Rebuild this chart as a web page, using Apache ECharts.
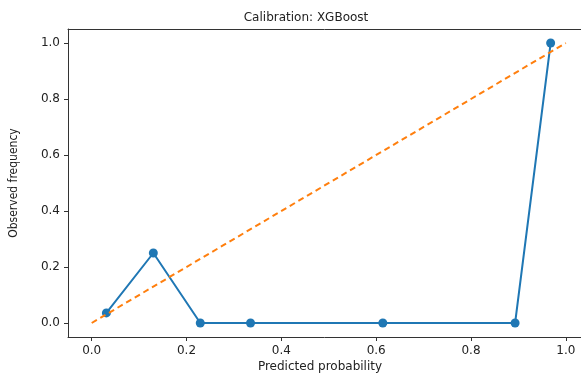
<!DOCTYPE html>
<html>
<head>
<meta charset="utf-8">
<script src="https://cdn.jsdelivr.net/npm/echarts@6/dist/echarts.min.js"></script>
<style>
  html, body { margin: 0; padding: 0; background: #fff; }
  #chart { width: 581px; height: 373px; }
</style>
</head>
<body>
<div id="chart"></div>
<script>
// 预测概率 / 观测频率
const predicted = [0.031, 0.13, 0.229, 0.335, 0.614, 0.893, 0.968];
const observed = [0.036, 0.25, 0, 0, 0, 0, 1.0];
// 完美校准参考线
const perfectX = [0, 1];
const perfectY = [0, 1];
const tickValues = [0, 0.2, 0.4, 0.6, 0.8, 1.0];

const font = 'DejaVu Sans';
const myChart = echarts.init(document.getElementById('chart'));

const axisCommon = {
  type: 'value',
  min: -0.05,
  max: 1.05,
  splitLine: { show: false },
  axisLine: { show: true, onZero: false, lineStyle: { color: '#333', width: 1 } },
  axisTick: { show: true, length: 4, customValues: tickValues, lineStyle: { color: '#333' } },
  axisLabel: {
    customValues: tickValues,
    formatter: v => v.toFixed(1),
    color: '#222',
    fontSize: 12,
    fontFamily: font,
    margin: 8
  }
};

myChart.setOption({
  animation: false,
  title: [
    {
      text: 'Calibration: XGBoost',
      left: 301,
      top: 7,
      textAlign: 'center',
      textStyle: { fontSize: 12, fontWeight: 'normal', color: '#222', fontFamily: font }
    },
    {
      text: 'Predicted probability',
      left: 315,
      top: 356,
      textAlign: 'center',
      textStyle: { fontSize: 12, fontWeight: 'normal', color: '#222', fontFamily: font }
    }
  ],
  // 右边框在图片之外，x 轴上限对应裁切位置
  grid: { left: 67, top: 29, right: 0, height: 308 },
  xAxis: [
    { ...axisCommon, max: 1.032 },
    {
      type: 'value',
      position: 'top',
      min: -0.05,
      max: 1.032,
      splitLine: { show: false },
      axisLine: { show: true, onZero: false, lineStyle: { color: '#333', width: 1 } },
      axisTick: { show: false },
      axisLabel: { show: false }
    }
  ],
  yAxis: {
    ...axisCommon,
    name: 'Observed frequency',
    nameLocation: 'middle',
    nameRotate: 90,
    nameGap: 48,
    nameTextStyle: { fontSize: 12, color: '#222', fontFamily: 'DejaVu Sans Condensed' }
  },
  series: [
    {
      type: 'line',
      data: perfectX.map((x, i) => [x, perfectY[i]]),
      symbol: 'none',
      lineStyle: { color: '#ff7f0e', width: 2, type: [6, 4] },
      z: 3
    },
    {
      type: 'line',
      data: predicted.map((x, i) => [x, observed[i]]),
      symbol: 'circle',
      symbolSize: 9,
      itemStyle: { color: '#1f77b4' },
      lineStyle: { color: '#1f77b4', width: 2 },
      z: 2
    }
  ]
});
</script>
</body>
</html>
